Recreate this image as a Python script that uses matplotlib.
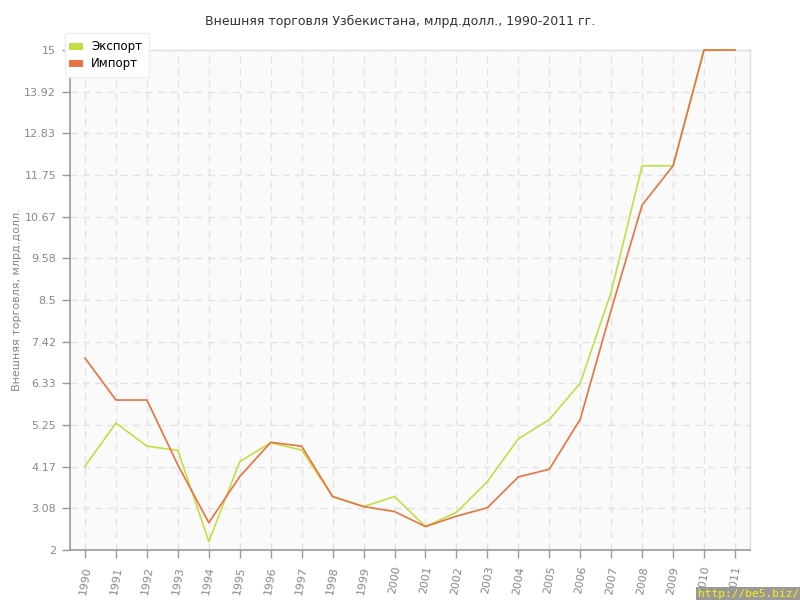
import matplotlib.pyplot as plt
import numpy as np

YEARS = list(range(1990, 2012))

EXPORT = [4.18, 5.30, 4.70, 4.59, 2.22, 4.30, 4.79, 4.60, 3.39, 3.13, 3.39,
          2.61, 2.98, 3.78, 4.89, 5.39, 6.34, 8.71, 11.99, 11.99, 15.0, 15.0]
IMPORT = [6.99, 5.90, 5.90, 4.21, 2.71, 3.91, 4.80, 4.70, 3.39, 3.13, 3.00,
          2.61, 2.88, 3.10, 3.90, 4.10, 5.40, 8.24, 10.97, 11.99, 15.0, 15.0]

Y_TICKS = [2, 3.08, 4.17, 5.25, 6.33, 7.42, 8.5, 9.58, 10.67, 11.75, 12.83, 13.92, 15]
Y_TICK_LABELS = ["2", "3.08", "4.17", "5.25", "6.33", "7.42", "8.5", "9.58",
                 "10.67", "11.75", "12.83", "13.92", "15"]

EXPORT_COLOR = "#c3de45"
IMPORT_COLOR = "#e8733f"
TEXT_COLOR = "#888888"

fig = plt.figure(figsize=(8, 6), dpi=100)
ax = fig.add_axes([0.0875, 0.0833, 0.85, 0.8333])
ax.set_facecolor("#fafafa")

ax.plot(YEARS, EXPORT, color=EXPORT_COLOR, linewidth=1.2, label="Экспорт",
        clip_on=False, zorder=3)
ax.plot(YEARS, IMPORT, color=IMPORT_COLOR, linewidth=1.2, label="Импорт",
        clip_on=False, zorder=3)

ax.set_xlim(1989.515, 2011.485)
ax.set_ylim(2, 15)
ax.set_yticks(Y_TICKS)
ax.set_yticklabels(Y_TICK_LABELS)
ax.set_xticks(YEARS)
ax.set_xticklabels([str(y) for y in YEARS], rotation=80, ha="center", va="top")

ax.grid(True, color="#e2e2e2", linestyle=(0, (5, 4)), linewidth=1)
ax.set_axisbelow(True)

for side in ["left", "bottom"]:
    ax.spines[side].set_color("#999999")
    ax.spines[side].set_linewidth(1.2)
for side in ["top", "right"]:
    ax.spines[side].set_color("#dddddd")
    ax.spines[side].set_linewidth(1)

ax.tick_params(axis="both", colors="#999999", labelcolor=TEXT_COLOR,
               labelsize=8, length=6, width=1)
ax.tick_params(axis="x", pad=5)
ax.tick_params(axis="y", pad=4)

ax.set_ylabel("Внешняя торговля, млрд.долл.", color=TEXT_COLOR, fontsize=8)
ax.yaxis.set_label_coords(-0.07, 0.5)
fig.suptitle("Внешняя торговля Узбекистана, млрд.долл., 1990-2011 гг.",
             x=0.5, y=0.975, fontsize=9, color="#333333")

leg = ax.legend(loc="upper left", bbox_to_anchor=(-0.007, 1.035), borderaxespad=0,
                frameon=True, fontsize=8.5, handlelength=0.6, handleheight=0.6,
                handletextpad=1.0, borderpad=0.6, labelspacing=0.35,
                fancybox=True)
for handle in leg.legend_handles:
    handle.set_linewidth(5)
leg.get_frame().set_edgecolor("#eeeeee")
leg.get_frame().set_facecolor("white")
leg.get_frame().set_alpha(1)
leg.set_zorder(5)

fig.text(0.999, 0.002, "http://be5.biz/", ha="right", va="bottom", color="#ffee00",
         fontsize=8, family="DejaVu Sans Mono",
         bbox=dict(boxstyle="square,pad=0.2", facecolor="#999999", edgecolor="none"))

fig.savefig("out.png", dpi=100)
